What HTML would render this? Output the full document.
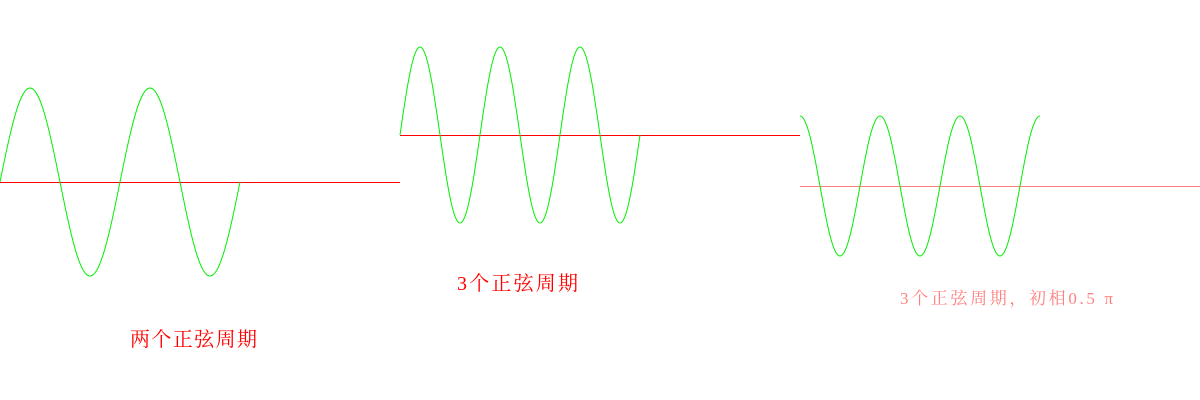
<!DOCTYPE html>
<html><head><meta charset="utf-8"><style>
html,body{margin:0;padding:0;background:#fff;width:1200px;height:400px;overflow:hidden}
svg{display:block}
text{font-family:"Liberation Serif","Noto Serif CJK SC",serif}
</style></head><body>
<svg id="chart" width="1200" height="400" viewBox="0 0 1200 400"></svg>
<script>
// panel data
const panelOffsets = [0, 400, 800];
const panelPeriods = [2, 3, 3];
const panelPhases = [0, 0, 0.5];
const panelAmplitudes = [94, 88, 70];
const panelAxisY = [182, 135, 186];
const panelTitles = ["两个正弦周期", "3个正弦周期", "3个正弦周期，初相0.5 π"];
const axisColors = ['#ff0000', '#ff0000', '#ff8080'];

const svg = document.getElementById('chart');
const NS = 'http://www.w3.org/2000/svg';
const waveWidth = 240;
const titlePos = [[130, 346, 20, 127], [457, 290, 20, 121], [900, 304, 17, 213]];

for (let p = 0; p < 3; p++) {
  const g = document.createElementNS(NS, 'g');
  
  
  svg.appendChild(g);
  const x0 = panelOffsets[p], y0 = panelAxisY[p];
  const axis = document.createElementNS(NS, 'line');
  
  
  axis.setAttribute('x1', x0); axis.setAttribute('x2', x0 + 400);
  axis.setAttribute('y1', y0 + 0.5); axis.setAttribute('y2', y0 + 0.5);
  axis.setAttribute('stroke', axisColors[p]); axis.setAttribute('stroke-width', '1');
  g.appendChild(axis);
  let d = '';
  for (let i = 0; i <= waveWidth; i++) {
    const t = i / waveWidth * panelPeriods[p] * 2 * Math.PI + panelPhases[p] * Math.PI;
    const y = y0 - panelAmplitudes[p] * Math.sin(t);
    d += (i ? 'L' : 'M') + (x0 + i) + ' ' + y.toFixed(2);
  }
  const path = document.createElementNS(NS, 'path');
  
  
  path.setAttribute('d', d);
  path.setAttribute('fill', 'none'); path.setAttribute('stroke', '#00ee00'); path.setAttribute('stroke-width', '1');
  g.appendChild(path);
  const tx = document.createElementNS(NS, 'text');
  
  
  tx.setAttribute('x', titlePos[p][0]); tx.setAttribute('y', titlePos[p][1]);
  tx.setAttribute('font-size', titlePos[p][2]);
  tx.setAttribute('textLength', titlePos[p][3]);
  tx.setAttribute('lengthAdjust', 'spacing');
  tx.setAttribute('fill', axisColors[p]);
  tx.textContent = panelTitles[p];
  g.appendChild(tx);
}
</script>
</body></html>
